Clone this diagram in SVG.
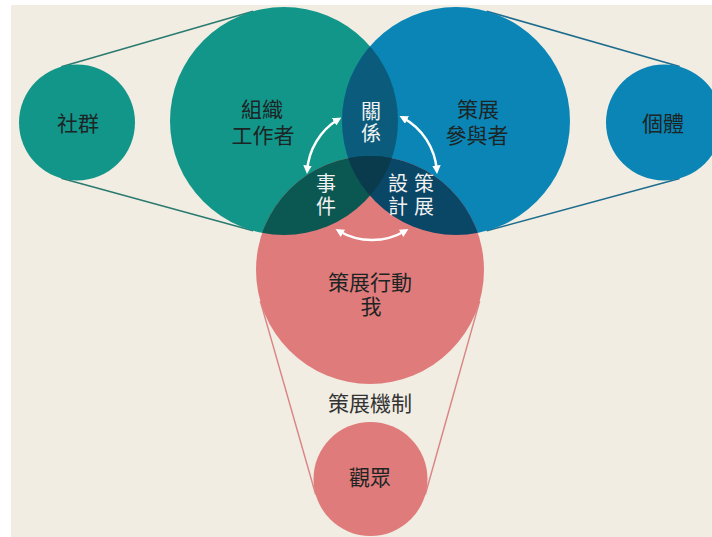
<svg xmlns="http://www.w3.org/2000/svg" width="712" height="537" viewBox="0 0 712 537">
  <style>
    .lbl { font-family: "Noto Sans CJK TC", "Noto Sans CJK SC", sans-serif; font-size: 21px; fill: #1c2424; text-anchor: middle; }
    .wlbl { font-family: "Noto Sans CJK TC", "Noto Sans CJK SC", sans-serif; font-size: 20px; fill: #f2f2f2; writing-mode: vertical-rl; text-anchor: start; letter-spacing: 2.5px; }
    .teal { fill: #12968a; }
    .blue { fill: #0a85b6; }
    .pink { fill: #e07b7b; }
    .tl { stroke: #2a7a70; stroke-width: 1.6; fill: none; }
    .bl { stroke: #1d6c8e; stroke-width: 1.6; fill: none; }
    .pl { stroke: #d98686; stroke-width: 1.5; fill: none; }
    .arc { stroke: #ffffff; stroke-width: 2.5; fill: none; marker-start: url(#ah); marker-end: url(#ah); }
  </style>
  <defs>
    <clipPath id="clip-teal"><circle cx="284" cy="121" r="114"/></clipPath>
    <clipPath id="clip-blue"><circle cx="456" cy="121" r="114"/></clipPath>
    <marker id="ah" viewBox="0 0 10 10" refX="6" refY="5" markerWidth="3.4" markerHeight="3.4" orient="auto-start-reverse">
      <path d="M0,0 L10,5 L0,10 z" fill="#ffffff"/>
    </marker>
  </defs>

  <rect x="0" y="0" width="712" height="537" fill="#ffffff"/>
  <rect x="11" y="5" width="701" height="532" fill="#f1ede2"/>

  <g id="connectors">
    <line class="tl" x1="61.3" y1="66.7" x2="253.2" y2="11.3"/>
    <line class="tl" x1="61.3" y1="178.3" x2="253.2" y2="230.7"/>
    <line class="bl" x1="486.7" y1="11.2" x2="679.6" y2="66.6"/>
    <line class="bl" x1="486.7" y1="230.8" x2="679.6" y2="178.4"/>
    <line class="pl" x1="260.3" y1="301.1" x2="315.7" y2="494.6"/>
    <line class="pl" x1="479.7" y1="301.1" x2="425.3" y2="494.6"/>
  </g>

  <g id="node-community">
    <circle class="teal" cx="77" cy="122.5" r="58"/>
    <text class="lbl" x="78" y="130.5">社群</text>
  </g>
  <g id="node-individual">
    <circle class="blue" cx="664" cy="122.5" r="58"/>
    <text class="lbl" x="663" y="130.5">個體</text>
  </g>
  <g id="node-audience">
    <circle class="pink" cx="370.5" cy="479" r="57"/>
    <text class="lbl" x="370" y="485">觀眾</text>
  </g>

  <g id="node-org-workers">
    <circle class="teal" cx="284" cy="121" r="114"/>
    <text class="lbl" x="262" y="117">組織<tspan x="263" dy="26">工作者</tspan></text>
  </g>
  <g id="node-participants">
    <circle class="blue" cx="456" cy="121" r="114"/>
    <text class="lbl" x="478" y="117">策展<tspan x="477" dy="26">參與者</tspan></text>
  </g>
  <g id="node-action">
    <circle class="pink" cx="370" cy="270" r="114"/>
    <text class="lbl" x="370" y="289.5">策展行動<tspan x="371" dy="24">我</tspan></text>
  </g>

  <g id="region-relation">
    <circle cx="456" cy="121" r="114" fill="#0b5c7c" clip-path="url(#clip-teal)"/>
  </g>
  <g id="region-event">
    <circle cx="370" cy="270" r="114" fill="#0b5752" clip-path="url(#clip-teal)"/>
  </g>
  <g id="region-design">
    <circle cx="370" cy="270" r="114" fill="#0a4666" clip-path="url(#clip-blue)"/>
  </g>
  <g id="region-center" clip-path="url(#clip-blue)">
    <circle cx="370" cy="270" r="114" fill="#093b4d" clip-path="url(#clip-teal)"/>
  </g>
  <g id="region-labels">
    <text class="wlbl" x="371" y="101">關係</text>
    <text class="wlbl" x="326" y="173.5">事件</text>
    <text class="wlbl" x="424" y="173.5">策展</text>
    <text class="wlbl" x="398" y="173.5">設計</text>
  </g>

  <g id="cycle-arrows">
    <path class="arc" d="M338.5,119.3 A65,65 0 0 0 307.2,170.5"/>
    <path class="arc" d="M402.5,117.6 A65,65 0 0 1 436.8,170.5"/>
    <path class="arc" d="M338.5,230.7 A65,65 0 0 0 405.5,230.7"/>
  </g>

  <g id="label-mechanism">
    <text class="lbl" x="370" y="411" style="fill:#333333">策展機制</text>
  </g>
</svg>
